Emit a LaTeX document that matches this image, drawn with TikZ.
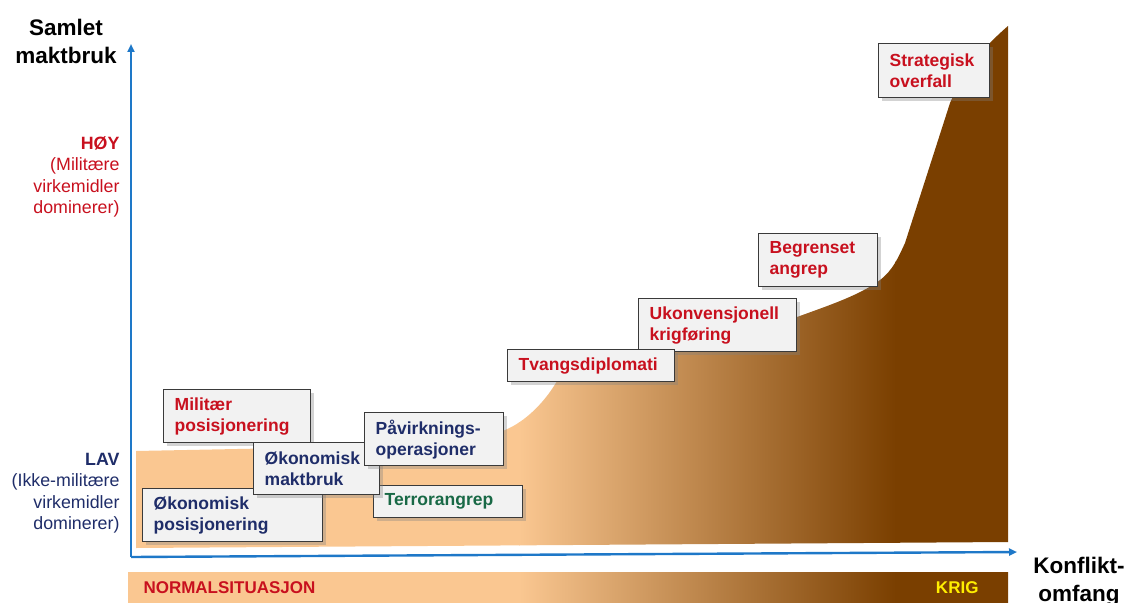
\documentclass[tikz,border=0pt]{standalone}
\usepackage{fontspec}
\setmainfont{Liberation Sans}
\usetikzlibrary{arrows.meta, positioning, shadows}

\definecolor{peach}{RGB}{250,199,145}
\definecolor{warbrown}{RGB}{122,63,0}
\definecolor{axisblue}{RGB}{30,120,200}
\definecolor{boxfill}{RGB}{242,242,242}
\definecolor{boxline}{RGB}{58,58,58}
\definecolor{alertred}{RGB}{200,16,30}
\definecolor{navy}{RGB}{31,45,105}
\definecolor{terrorgreen}{RGB}{25,105,70}
\definecolor{krigyellow}{RGB}{255,238,0}

\begin{document}
\begin{tikzpicture}[
    x=1pt, y=-1pt,
    box/.style={rectangle, anchor=north west, align=left, draw=boxline, line width=1.4pt, fill=boxfill, inner xsep=11pt, inner ysep=0pt, font=\fontsize{17.5}{21}\selectfont\bfseries, drop shadow={shadow xshift=3pt, shadow yshift=-3pt, opacity=0.35}},
    axislabel/.style={font=\fontsize{22.5}{28}\selectfont\bfseries, align=center},
    level/.style={anchor=east, align=right, font=\fontsize{17.8}{21.5}\selectfont},
    bartext/.style={font=\fontsize{17}{20}\selectfont\bfseries},
    axis/.style={draw=axisblue, line width=2.4pt, -{Triangle[length=8pt,width=7pt]}}
]
\useasboundingbox (0,0) rectangle (1129,602);

% Area and bar
\begin{scope}
  \clip (136,548) -- (136,451) -- (490,444) .. controls (496,436) and (500,432) .. (505,430)
        .. controls (525,422) and (545,402) .. (557,381) .. controls (600,362) and (650,352) .. (700,340)
        .. controls (740,330) and (770,323) .. (797,317) .. controls (830,305) and (860,295) .. (880,280)
        .. controls (893,270) and (898,258) .. (905,243) -- (950,103)
        .. controls (962,75) and (980,50) .. (1008,26) -- (1008,542) -- cycle
        (128,572) rectangle (1008,610);
  \fill[peach] (120,0) rectangle (520,610);
  \shade[left color=peach, right color=warbrown] (519,0) rectangle (896,610);
  \fill[warbrown] (895,0) rectangle (1010,610);
\end{scope}

% Axes
\coordinate (origin) at (131,557);
\coordinate (ytip) at (131,44);
\coordinate (xtip) at (1017,552);
\draw[axis] (origin) -- (ytip);
\draw[axis] (origin) -- (xtip);

% Labels
\node (ylabel) [axislabel] at (66,41) {Samlet\\maktbruk};
\node (xlabel) [axislabel] at (1079,582) {Konflikt-\\omfang};
\node (hoy) [level, text=alertred] at (123,177) {\textbf{HØY}\\(Militære\\virkemidler\\dominerer)};
\node (lav) [level, text=navy] at (123,493) {\textbf{LAV}\\(Ikke-militære\\virkemidler\\dominerer)};
\node (normal) [bartext, text=alertred, anchor=west] at (140,588) {NORMALSITUASJON};
\node (krig) [bartext, text=krigyellow, anchor=east] at (982,588) {KRIG};

% Nodes
\node (militaer) [box, text=alertred, text width=125pt, minimum height=53pt] at (163,389) {Militær\\posisjonering};
\node (okpos) [box, text=navy, text width=158pt, minimum height=53pt] at (142,488) {Økonomisk\\posisjonering};
\node (terror) [box, text=terrorgreen, text width=127pt, minimum height=32pt] at (373,485) {Terrorangrep};
\node (okmakt) [box, text=navy, text width=104pt, minimum height=52pt] at (253,442) {Økonomisk\\maktbruk};
\node (paavirk) [box, text=navy, text width=117pt, minimum height=53pt] at (364,412) {Påvirknings-\\operasjoner};
\node (ukonv) [box, text=alertred, text width=136pt, minimum height=53pt] at (638,298) {Ukonvensjonell\\krigføring};
\node (tvang) [box, text=alertred, text width=145pt, minimum height=32pt] at (507,349) {Tvangsdiplomati};
\node (begrenset) [box, text=alertred, text width=97pt, minimum height=53pt] at (758,233) {Begrenset\\angrep};
\node (strategisk) [box, text=alertred, text width=89pt, minimum height=54pt] at (878,43) {Strategisk\\overfall};

\end{tikzpicture}
\end{document}
